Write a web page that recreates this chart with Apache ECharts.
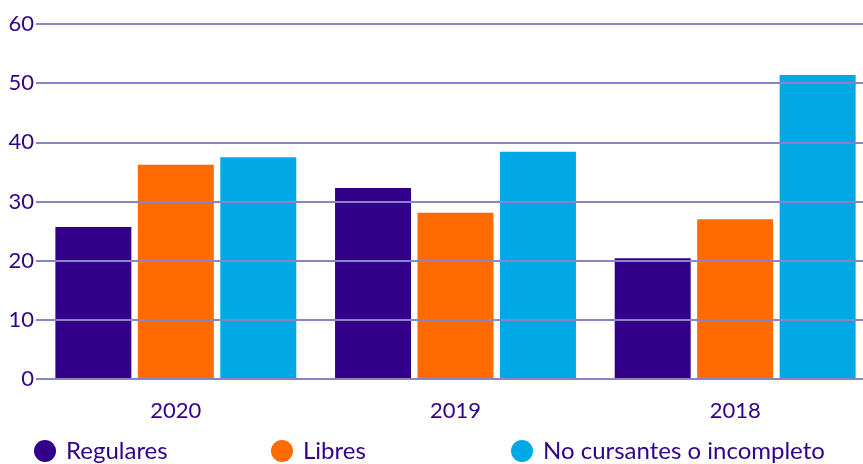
<!DOCTYPE html>
<html>
<head>
<meta charset="utf-8">
<script src="https://cdn.jsdelivr.net/npm/echarts@6/dist/echarts.min.js"></script>
<style>
  html, body { margin: 0; padding: 0; background: #fff; }
  #chart { width: 863px; height: 464px; }
</style>
</head>
<body>
<div id="chart"></div>
<script>
var years = ['2020', '2019', '2018']
var regulares = [25.7, 32.3, 20.4]
var libres = [36.2, 28.1, 27.0]
var noCursantes = [37.5, 38.4, 51.4]
var yTicks = [0, 60, 10] // min, max, interval

var textColor = '#33008a'
var font = 'Lato'

var chart = echarts.init(document.getElementById('chart'))

function legendAt(left, name) {
  return {
    left: left,
    top: 439,
    padding: 0,
    icon: 'circle',
    itemWidth: 22,
    itemHeight: 22,
    data: [name],
    selectedMode: false,
    textStyle: { color: textColor, fontFamily: font, fontSize: 24, padding: [0, 0, 0, 5] }
  }
}

var option = {
  animation: false,
  grid: { left: 36, width: 839, top: 24, bottom: 85, outerBoundsMode: 'none' },
  legend: [
    legendAt(34, 'Regulares'),
    legendAt(271, 'Libres'),
    legendAt(511, 'No cursantes o incompleto')
  ],
  xAxis: {
    type: 'category',
    data: years,
    axisLine: { show: false },
    axisTick: { show: false },
    axisLabel: { color: textColor, fontFamily: font, fontSize: 22, margin: 21 }
  },
  yAxis: {
    type: 'value',
    min: yTicks[0],
    max: yTicks[1],
    interval: yTicks[2],
    z: 10,
    axisLine: { show: false },
    axisTick: { show: false },
    axisLabel: { color: textColor, fontFamily: font, fontSize: 22, margin: 2 },
    splitLine: { lineStyle: { color: '#8a84c4', width: 2 } }
  },
  series: [
    { name: 'Regulares', type: 'bar', data: regulares, barWidth: 76, barGap: '8.5%', itemStyle: { color: '#33008a' } },
    { name: 'Libres', type: 'bar', data: libres, barWidth: 76, barGap: '8.5%', itemStyle: { color: '#ff6b00' } },
    { name: 'No cursantes o incompleto', type: 'bar', data: noCursantes, barWidth: 76, barGap: '8.5%', itemStyle: { color: '#00a8e6' } }
  ]
}

chart.setOption(option)
</script>
</body>
</html>
